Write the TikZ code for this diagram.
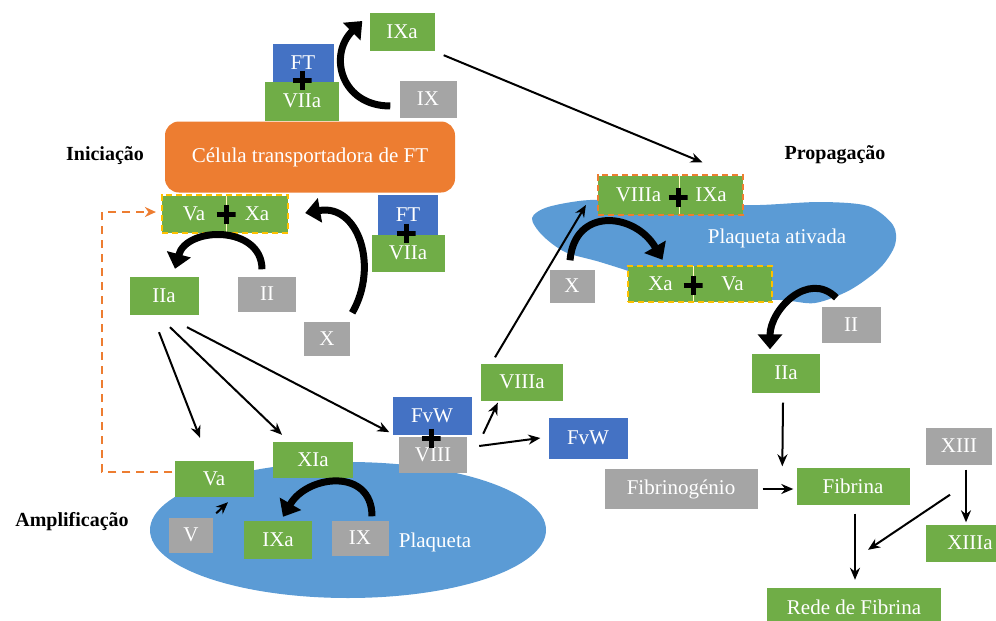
\documentclass[tikz,border=0pt]{standalone}
\usepackage{fontspec}
\setmainfont{Liberation Serif}
\usetikzlibrary{shapes,arrows.meta,positioning,fit,calc}

\definecolor{actgreen}{HTML}{70AD47}
\definecolor{tfblue}{HTML}{4472C4}
\definecolor{zymgray}{HTML}{A5A5A5}
\definecolor{cellorange}{HTML}{ED7D31}
\definecolor{plaqblue}{HTML}{5B9BD5}
\definecolor{dashyellow}{HTML}{FFC000}

\begin{document}
\begin{tikzpicture}[x=1pt, y=-1pt,
    factor/.style={rectangle, fill=actgreen, text=white, inner sep=0pt, minimum height=38pt, font=\fontsize{21}{24}\selectfont},
    inactive/.style={factor, fill=zymgray},
    cofactor/.style={factor, fill=tfblue},
    phase/.style={font=\fontsize{20}{24}\selectfont\bfseries},
    plusmark/.style={minimum size=19pt, inner sep=0pt, path picture={
        \draw[line width=5pt] (path picture bounding box.north) -- (path picture bounding box.south)
                              (path picture bounding box.west) -- (path picture bounding box.east);}},
    pairframe/.style={draw=#1, dashed, dash pattern=on 6pt off 4pt, line width=1.8pt, inner sep=0pt},
    reaction/.style={line width=2pt, -{Stealth[length=12pt,width=10pt]}},
    turnover/.style={line width=7pt, -{Triangle[length=15pt,width=24pt]}},
    feedback/.style={draw=cellorange, line width=2.2pt, dash pattern=on 8pt off 6pt, -{Stealth[length=11pt,width=10pt]}}
]
    \useasboundingbox (0,0) rectangle (996,621);

    % plaquetas
    \node[ellipse, fill=plaqblue, minimum width=396pt, minimum height=136pt, inner sep=0pt] (plaq) at (348,530) {};
    \fill[plaqblue] plot[smooth cycle] coordinates {(532,218) (548,207) (590,200) (640,203) (700,205) (760,205)
        (820,202) (868,206) (893,225) (895,245) (880,268) (850,290) (815,303) (780,300) (700,298)
        (640,275) (600,262) (565,252) (542,235)};

    % Iniciacao
    \node[phase] (ini) at (105,156) {Iniciação};
    \node[factor, minimum width=65pt] (ixaT) at (402,32) {IXa};
    \node[cofactor, minimum width=61pt, minimum height=39pt] (ftT) at (303,63) {FT};
    \node[factor, minimum width=74pt, minimum height=39pt] (viiaT) at (302,101) {VIIa};
    \node[inactive, minimum width=57pt, minimum height=37pt] (ixT) at (428,99) {IX};
    \node[rectangle, rounded corners=14pt, fill=cellorange, text=white, minimum width=290pt, minimum height=71pt,
          font=\fontsize{21}{24}\selectfont] (cell) at (310,157) {Célula transportadora de FT};
    \node[factor, minimum width=64pt, minimum height=37pt] (vaI) at (194,214) {Va};
    \node[factor, minimum width=62pt, minimum height=37pt] (xaI) at (257,214) {Xa};
    \node[cofactor, minimum width=60pt, minimum height=40pt] (ftR) at (408,215) {FT};
    \node[factor, minimum width=73pt, minimum height=37pt] (viiaR) at (408,253) {VIIa};
    \node[factor, minimum width=69pt] (iiaI) at (164,296) {IIa};
    \node[inactive, minimum width=58pt, minimum height=35pt] (iiI) at (267,294) {II};
    \node[inactive, minimum width=46pt, minimum height=34pt] (xI) at (327,339) {X};

    % Amplificacao
    \node[phase] (amp) at (72,522) {Amplificação};
    \node[factor, minimum width=79pt, minimum height=36pt] (vaA) at (214,479) {Va};
    \node[factor, minimum width=80pt, minimum height=36pt] (xiaA) at (313,460) {XIa};
    \node[cofactor, minimum width=79pt] (fvwA) at (432,416) {FvW};
    \node[inactive, minimum width=68pt, minimum height=36pt] (viiiA) at (433,455) {VIII};
    \node[inactive, minimum width=44pt, minimum height=35pt] (vA) at (191,535) {V};
    \node[factor, minimum width=68pt] (ixaA) at (278,540) {IXa};
    \node[inactive, minimum width=57pt, minimum height=35pt] (ixA) at (360,538) {IX};
    \node[text=white, font=\fontsize{21}{24}\selectfont] (plaqtxt) at (435,542) {Plaqueta};
    \node[factor, minimum width=82pt, minimum height=37pt] (viiiaA) at (522,382) {VIIIa};
    \node[cofactor, minimum width=79pt, minimum height=41pt] (fvwR) at (588,438) {FvW};

    % Propagacao
    \node[phase] (prop) at (835,155) {Propagação};
    \node[text=white, font=\fontsize{21}{24}\selectfont] (ativtxt) at (777,238) {Plaqueta ativada};
    \node[factor, minimum width=81pt, minimum height=39pt] (viiiaP) at (638.5,195) {VIIIa};
    \node[factor, minimum width=64pt, minimum height=39pt] (ixaP) at (711,195) {IXa};
    \node[inactive, minimum width=45pt, minimum height=33pt] (xP) at (572,286) {X};
    \node[factor, minimum width=65pt, minimum height=36pt] (xaP) at (660.5,284) {Xa};
    \node[factor, minimum width=79pt, minimum height=36pt] (vaP) at (732.5,284) {Va};
    \node[inactive, minimum width=59pt, minimum height=36pt] (iiP) at (851,325) {II};
    \node[factor, minimum width=68pt, minimum height=39pt] (iiaP) at (786,373) {IIa};
    \node[inactive, minimum width=153pt, minimum height=40pt] (fibg) at (681,489) {Fibrinogénio};
    \node[factor, minimum width=113pt, minimum height=37pt] (fib) at (853,486) {Fibrina};
    \node[inactive, minimum width=66pt, minimum height=37pt] (xiii) at (959,446) {XIII};
    \node[factor, minimum width=88pt, minimum height=37pt] (xiiia) at (970,543) {XIIIa};
    \node[factor, minimum width=174pt] (rede) at (854,607) {Rede de Fibrina};

    % complexos
    \draw[white!75!yellow, line width=0.8pt] (vaI.north east) -- (vaI.south east);
    \draw[white!75!yellow, line width=0.8pt] (viiiaP.north east) -- (viiiaP.south east);
    \draw[white!75!yellow, line width=0.8pt] (xaP.north east) -- (xaP.south east);
    \node[pairframe=dashyellow, fit=(vaI)(xaI)] (pair1) {};
    \node[pairframe=cellorange, fit=(viiiaP)(ixaP)] (pair2) {};
    \node[pairframe=dashyellow, fit=(xaP)(vaP)] (pair3) {};
    \node[plusmark] (plus1) at (302,80) {};
    \node[plusmark] (plus2) at (406,233) {};
    \node[plusmark] (plus3) at (226,214) {};
    \node[plusmark] (plus4) at (431,438) {};
    \node[plusmark] (plus5) at (678,197) {};
    \node[plusmark] (plus6) at (693,285) {};

    % conversoes
    \draw[turnover] ($(ixT.west)+(-9,7)$) to[out=180, in=225, looseness=1.4] ($(ixaT.west)+(-7,-11)$);
    \draw[turnover] ($(xI.north east)+(2,-9)$) to[out=60, in=10, looseness=1.25] ($(xaI.east)+(17,-1)$);
    \draw[turnover] ($(iiI.north)+(-5,-7)$) to[out=90, in=75, looseness=1.3] ($(iiaI.north)+(11,-8)$);
    \draw[turnover] ($(ixA.north)+(12,-4)$) to[out=90, in=60, looseness=1.4] ($(ixaA.north)+(5,-4)$);
    \draw[turnover] ($(xP.north)+(-2,-9)$) to[out=85, in=120, looseness=1.5] ($(xaP.north)+(2,-6)$);
    \draw[turnover] ($(iiP.north west)+(15,-9)$) to[out=135, in=90, looseness=1.2] ($(iiaP.north)+(-16,-4)$);

    % ativacoes
    \draw[reaction] ($(ixaT.south east)+(9,4)$) -- ($(pair2.north)+(32,-12)$);
    \draw[reaction] ($(iiaI.south)+(-5,17)$) -- ($(vaA.north)+(-14,-23)$);
    \draw[reaction] ($(iiaI.south)+(6,12)$) -- ($(xiaA.north)+(-31,-7)$);
    \draw[reaction] ($(iiaI.south)+(23,12)$) -- ($(fvwA.south west)+(-3,-3)$);
    \draw[reaction] ($(viiiA.north east)+(16,-3)$) -- ($(viiiaA.south west)+(17,2)$);
    \draw[reaction] ($(viiiA.east)+(12,-9)$) -- ($(fvwR.west)+(-8,0)$);
    \draw[reaction] ($(viiiaA.north)+(-27,-6)$) -- ($(pair2.west)+(-11,10)$);
    \draw[reaction] ($(vA.north east)+(3,-4)$) -- ($(vaA.south)+(14,5)$);
    \draw[reaction] ($(iiaP.south)+(-3,10)$) -- ($(fib.north west)+(-14,-1)$);
    \draw[reaction] ($(fibg.east)+(5,0)$) -- ($(fib.west)+(-3,3)$);
    \draw[reaction] ($(fib.south)+(2,9)$) -- ($(rede.north)+(1,-8)$);
    \draw[reaction] ($(xiii.south)+(7,5)$) -- ($(xiiia.north)+(-4,-2)$);
    \draw[reaction] ($(xiii.south)+(-9,30)$) -- ($(rede.north)+(14,-38)$);

    % retroalimentacao
    \draw[feedback] ($(vaA.west)+(-2,-7)$) -- ++(-70,0) |- ($(pair1.west)+(-5,-2)$);

\end{tikzpicture}
\end{document}
